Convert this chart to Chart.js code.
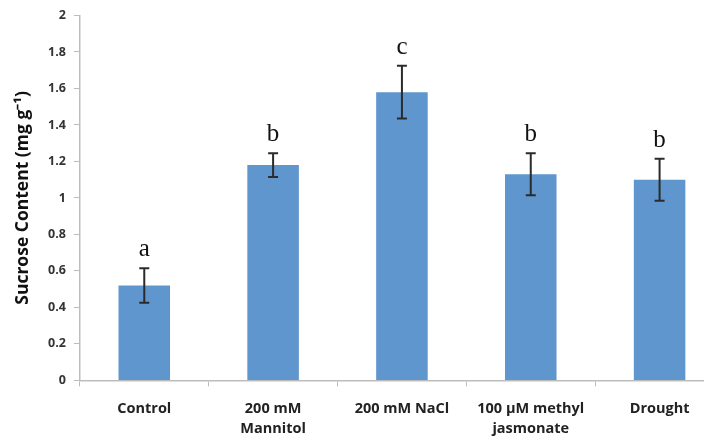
<!DOCTYPE html>
<html>
<head>
<meta charset="utf-8">
<script src="https://cdn.jsdelivr.net/npm/chart.js@4.4.0/dist/chart.umd.min.js"></script>
<style>
	html, body { margin: 0; padding: 0; background: #fff; overflow: hidden; }
	#wrap { width: 724px; height: 442px; }
</style>
</head>
<body>
<div id="wrap"><canvas id="SucroseChart"></canvas></div>
<script>
var categories = [['Control'], ['200 mM', 'Mannitol'], ['200 mM NaCl'], ['100 \u00b5M methyl', 'jasmonate'], ['Drought']];
var sucrose = [0.52, 1.18, 1.58, 1.13, 1.10];
var errors = [0.095, 0.065, 0.145, 0.115, 0.115];
var letters = ['a', 'b', 'c', 'b', 'b'];
var yTicks = [0, 0.2, 0.4, 0.6, 0.8, 1, 1.2, 1.4, 1.6, 1.8, 2];

// error bars + significance letters
var errorBars = {
	id: 'errorBars',
	afterDatasetsDraw: function (chart) {
		var ctx = chart.ctx;
		var meta = chart.getDatasetMeta(0);
		var y = chart.scales.y;
		ctx.save();
		meta.data.forEach(function (bar, i) {
			var x = bar.x;
			var top = y.getPixelForValue(sucrose[i] + errors[i]);
			var bot = y.getPixelForValue(sucrose[i] - errors[i]);
			ctx.strokeStyle = '#2b2b2b';
			ctx.lineWidth = 2;
			ctx.beginPath();
			ctx.moveTo(x, top); ctx.lineTo(x, bot);
			ctx.moveTo(x - 5, top); ctx.lineTo(x + 5, top);
			ctx.moveTo(x - 5, bot); ctx.lineTo(x + 5, bot);
			ctx.stroke();
			ctx.fillStyle = '#111';
			ctx.font = '25px "Liberation Serif", serif';
			ctx.textAlign = 'center';
			ctx.textBaseline = 'alphabetic';
			ctx.fillText(letters[i], x, top - 12);
		});
		ctx.restore();
	}
};

var ctx = document.getElementById('SucroseChart');
var myChart = new Chart(ctx, {
	type: 'bar',
	data: {
		labels: categories,
		datasets: [{
			data: sucrose,
			backgroundColor: '#5f96cd',
			borderWidth: 0,
			barPercentage: 0.4,
			categoryPercentage: 1
		}]
	},
	options: {
		responsive: true,
		maintainAspectRatio: false,
		animation: false,
		layout: {
			padding: { top: 13, left: 13, right: 0, bottom: -9 }
		},
		scales: {
			x: {
				grid: {
					offset: true,
					drawOnChartArea: false,
					drawTicks: true,
					tickLength: 6,
					color: '#bdbdbd'
				},
				border: { color: '#bdbdbd', width: 1.5 },
				ticks: {
					color: '#222',
					font: { family: '"Open Sans", sans-serif', size: 14.5, weight: 'bold', lineHeight: 1.4 },
					maxRotation: 0,
					autoSkip: false,
					padding: 12
				}
			},
			y: {
				min: 0,
				max: 2,
				afterBuildTicks: function (axis) {
					axis.ticks = yTicks.map(function (v) { return { value: v }; });
				},
				grid: {
					drawOnChartArea: false,
					drawTicks: true,
					tickLength: 6,
					color: '#bdbdbd'
				},
				border: { color: '#bdbdbd', width: 1.5 },
				ticks: {
					color: '#333',
					font: { family: '"Open Sans", sans-serif', size: 12.5, weight: 'bold' },
					padding: 8,
					callback: function (v) { return String(Math.round(v * 10) / 10); }
				},
				title: {
					display: true,
					text: 'Sucrose Content (mg g\u207b\u00b9)',
					color: '#111',
					font: { family: '"Open Sans", sans-serif', size: 17.5, weight: 'bold' },
					padding: { top: 0, bottom: 6 }
				}
			}
		},
		plugins: {
			legend: { display: false },
			tooltip: { enabled: false }
		}
	},
	plugins: [errorBars]
});
</script>
</body>
</html>
